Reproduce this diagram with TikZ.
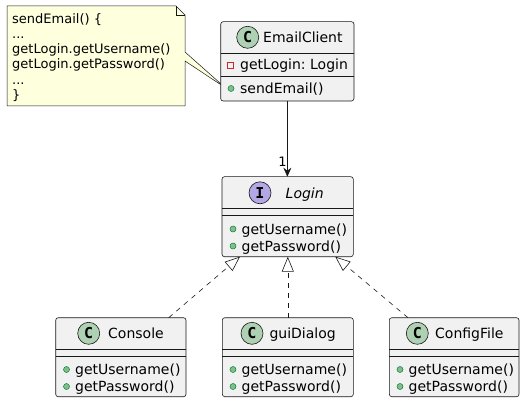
\documentclass[tikz,border=0pt]{standalone}
\usepackage{fontspec}
\setmainfont{DejaVu Sans}
\newfontfamily\iconfont{DejaVu Sans Mono}
\usetikzlibrary{arrows.meta,calc}
\frenchspacing
\definecolor{boxfill}{HTML}{F1F1F1}
\definecolor{boxline}{HTML}{181818}
\definecolor{notefill}{HTML}{FEFFDD}
\definecolor{noteline}{HTML}{181818}
\definecolor{classicon}{HTML}{ADD1B2}
\definecolor{ifaceicon}{HTML}{B4A7E5}
\definecolor{pubfill}{HTML}{84BE84}
\definecolor{publine}{HTML}{038048}
\definecolor{privline}{HTML}{C82930}
\begin{document}
\begin{tikzpicture}[x=1pt,y=-1pt,
  classbox/.style={draw=boxline, fill=boxfill, line width=0.6pt, rounded corners=2.5pt,
    anchor=north west, inner sep=0pt, outer sep=0pt},
  icon/.style={circle, draw=boxline, line width=0.6pt, minimum size=22pt, inner sep=0pt,
    font=\iconfont\bfseries\fontsize{15}{15}\selectfont},
  title/.style={anchor=base west, inner sep=0pt, font=\fontsize{14}{16}\selectfont},
  member/.style={anchor=base west, inner sep=0pt, font=\fontsize{14}{16}\selectfont},
  pub/.style={circle, fill=pubfill, draw=publine, line width=0.5pt, minimum size=6pt, inner sep=0pt},
  priv/.style={rectangle, draw=privline, line width=0.7pt, minimum size=6pt, inner sep=0pt},
  sepline/.style={draw=boxline, line width=0.5pt},
  realize/.style={draw=boxline, line width=0.6pt, dash pattern=on 5pt off 5pt,
    -{Triangle[open, length=15pt, width=12pt]}},
  assoc/.style={draw=boxline, line width=0.6pt, -{Stealth[length=9pt, width=8pt, inset=3pt]}},
  notetext/.style={anchor=north west, inner sep=0pt, align=left,
    font=\fontsize{13}{15.2}\selectfont}
]
\useasboundingbox (0,0) rectangle (526,403);

% ---------- Note ----------
\coordinate (noteptr) at (225,87.5);
\draw[fill=notefill, draw=noteline, line width=0.5pt]
  (7,6) -- (176,6) -- (185,15) -- (185,52) -- (noteptr) -- (185,61) -- (185,106) -- (7,106) -- cycle;
\draw[draw=noteline, line width=0.5pt] (176,6) -- (176,15) -- (185,15);
\node[notetext] (notebody) at (12,13.2) {sendEmail() \{\\...\\getLogin.getUsername()\\getLogin.getPassword()\\...\\\}};

% ---------- EmailClient ----------
\node[classbox, minimum width=133.3pt, minimum height=79.3pt] (email) at (220.7,21.7) {};
\draw[sepline] ($(email.north west)+(0,31.6)$) -- ($(email.north east)+(0,31.6)$);
\draw[sepline] ($(email.north west)+(0,55)$) -- ($(email.north east)+(0,55)$);
\node[icon, fill=classicon] (emailicon) at (247.7,37.3) {C};
\node[title] (emailtitle) at (263,42.3) {EmailClient};
\node[priv] (emailpriv) at (230.5,65) {};
\node[member] (emailattr) at (240,70) {getLogin: Login};
\node[pub] (emailpub) at (231,88.5) {};
\node[member] (emailmeth) at (240,93.5) {sendEmail()};

% ---------- Login ----------
\node[classbox, minimum width=131.3pt, minimum height=80pt] (login) at (222,176.7) {};
\draw[sepline] ($(login.north west)+(0,31.6)$) -- ($(login.north east)+(0,31.6)$);
\draw[sepline] ($(login.north west)+(0,38.5)$) -- ($(login.north east)+(0,38.5)$);
\node[icon, fill=ifaceicon] (loginicon) at (260,192.8) {I};
\node[title, font=\fontsize{14}{16}\selectfont\itshape] (logintitle) at (285.5,198) {Login};
\node[pub] (loginpub1) at (233,229) {};
\node[member] (loginm1) at (241.5,234) {getUsername()};
\node[pub] (loginpub2) at (233,246) {};
\node[member] (loginm2) at (241.5,251) {getPassword()};

% ---------- Console ----------
\node[classbox, minimum width=130.3pt, minimum height=79pt] (console) at (55.7,317.7) {};
\draw[sepline] ($(console.north west)+(0,31.6)$) -- ($(console.north east)+(0,31.6)$);
\draw[sepline] ($(console.north west)+(0,38.5)$) -- ($(console.north east)+(0,38.5)$);
\node[icon, fill=classicon] (consoleicon) at (88.7,333.3) {C};
\node[title] (consoletitle) at (108,338.5) {Console};
\node[pub] (consolepub1) at (66.5,369.5) {};
\node[member] (consolem1) at (75,374.5) {getUsername()};
\node[pub] (consolepub2) at (66.5,386.5) {};
\node[member] (consolem2) at (75,391.5) {getPassword()};

% ---------- guiDialog ----------
\node[classbox, minimum width=131pt, minimum height=79pt] (gui) at (222.3,317.7) {};
\draw[sepline] ($(gui.north west)+(0,31.6)$) -- ($(gui.north east)+(0,31.6)$);
\draw[sepline] ($(gui.north west)+(0,38.5)$) -- ($(gui.north east)+(0,38.5)$);
\node[icon, fill=classicon] (guiicon) at (252,333.3) {C};
\node[title] (guititle) at (269.3,338.5) {guiDialog};
\node[pub] (guipub1) at (233,369.5) {};
\node[member] (guim1) at (241.5,374.5) {getUsername()};
\node[pub] (guipub2) at (233,386.5) {};
\node[member] (guim2) at (241.5,391.5) {getPassword()};

% ---------- ConfigFile ----------
\node[classbox, minimum width=129.7pt, minimum height=79pt] (config) at (389.3,317.7) {};
\draw[sepline] ($(config.north west)+(0,31.6)$) -- ($(config.north east)+(0,31.6)$);
\draw[sepline] ($(config.north west)+(0,38.5)$) -- ($(config.north east)+(0,38.5)$);
\node[icon, fill=classicon] (configicon) at (417.3,333.3) {C};
\node[title] (configtitle) at (435,338.5) {ConfigFile};
\node[pub] (configpub1) at (400,369.5) {};
\node[member] (configm1) at (408.5,374.5) {getUsername()};
\node[pub] (configpub2) at (400,386.5) {};
\node[member] (configm2) at (408.5,391.5) {getPassword()};

% ---------- Connectors ----------
\draw[assoc] (email.south) -- (email.south |- login.north);
\node[anchor=base east, inner sep=0pt, font=\fontsize{13}{15}\selectfont] (mult) at ($(email.south |- login.north)+(-0.5,-10)$) {1};

\draw[realize] ($(console.north west)!0.867!(console.north east)$) -- ($(login.south west)!0.137!(login.south east)$);
\draw[realize] (gui.north) -- (gui.north |- login.south);
\draw[realize] ($(config.north west)!0.144!(config.north east)$) -- ($(login.south west)!0.863!(login.south east)$);
\end{tikzpicture}
\end{document}
